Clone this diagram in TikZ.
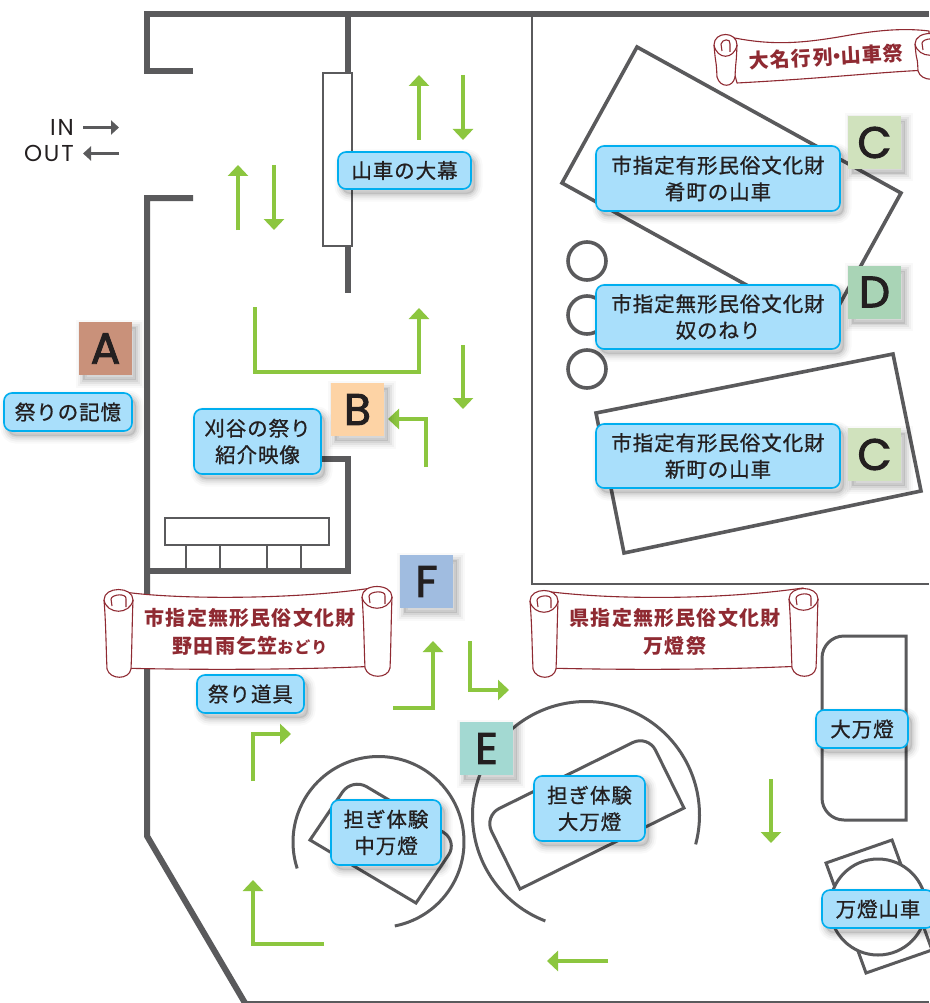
\documentclass[tikz,border=0pt]{standalone}
\usepackage{fontspec}
\usetikzlibrary{arrows.meta,shadows}
\newfontfamily\jp[LetterSpace=4.5,FakeBold=0.8]{Noto Sans CJK JP}
\newfontfamily\jpr[LetterSpace=6.0]{Noto Sans CJK JP}
\newfontfamily\pop[LetterSpace=8.0]{Poppins}
\newfontfamily\popb[FakeBold=2.2]{Poppins}
\setmainfont{Noto Sans}
\definecolor{wall}{HTML}{5A5A5C}
\definecolor{grn}{HTML}{8CC63F}
\definecolor{lblfill}{HTML}{A9DFFB}
\definecolor{lbledge}{HTML}{00AEEF}
\definecolor{scr}{HTML}{8F2A32}
\definecolor{ink}{HTML}{231F20}
\tikzset{
  softshadow/.style={
    general shadow={shadow xshift=4pt,shadow yshift=-5pt,draw=black,draw opacity=.025,line width=15pt},
    general shadow={shadow xshift=4pt,shadow yshift=-5pt,draw=black,draw opacity=.035,line width=11pt},
    general shadow={shadow xshift=4pt,shadow yshift=-5pt,draw=black,draw opacity=.05,line width=7pt},
    general shadow={shadow xshift=4pt,shadow yshift=-5pt,draw=black,draw opacity=.06,line width=3pt,fill=black,fill opacity=.1}},
  lbl/.style={softshadow,draw=lbledge,line width=1.6pt,fill=lblfill,rounded corners=8pt,inner sep=0pt,
    align=center,text=ink,font=\jp\fontsize{20.5}{26.5}\selectfont,anchor=center},
  sq/.style={softshadow,minimum width=53pt,minimum height=53pt,inner sep=0pt,text=ink,
    font=\popb\fontsize{44}{44}\selectfont},
  wallmain/.style={draw=wall,line width=6pt},
  wallthin/.style={draw=wall,line width=2pt},
  wallmid/.style={draw=wall,line width=3pt},
  fixture/.style={draw=wall,line width=3pt,line join=miter},
  route/.style={draw=grn,line width=3.2pt,-{Triangle[length=11pt,width=20pt]}},
  inout/.style={draw=wall,line width=3.5pt,-{Triangle[length=8pt,width=14pt]}},
  scrollline/.style={draw=scr,line width=1.1pt,fill=white,line join=round},
  scrolltext/.style={text=scr,inner sep=0pt,align=center,font=\jpr\bfseries\fontsize{20}{28}\selectfont},
  plain/.style={inner sep=0pt,text=ink,font=\pop\fontsize{23}{23}\selectfont}
}
% roll of a scroll: left, right, top, bottom
\newcommand{\rollpart}[4]{%
  \path[scrollline] (#1,#3+11) .. controls (#1,#3-3) and (#2,#3-3) .. (#2,#3+11)
     .. controls (#2-1,#3+35) and (#2-1,#4-30) .. (#2-2,#4-9)
     .. controls (#2-4,#4+2) and (#1+6,#4+2) .. (#1+3,#4-9)
     .. controls (#1+2,#4-30) and (#1+2,#3+35) .. (#1,#3+11) -- cycle;
  \path[scrollline,fill=none] (#1,#3+11) .. controls (#1+3,#3+26) and (#2-3,#3+26) .. (#2,#3+11);
  \path[scrollline,fill=none] (#1+7,#3+10) .. controls (#1+8,#3+5) and (#2-6,#3+4) .. (#2-7,#3+10) -- (#2-7,#3+18);
  \path[scrollline,fill=none] (#1+7,#3+10) -- (#1+8,#3+17);
}
\begin{document}
\begin{tikzpicture}[x=1pt,y=-1pt]
\useasboundingbox (0,0) rectangle (929,1003);
\fill[white] (0,0) rectangle (929,1003);
% walls
\draw[wallmain] (193,71) -- (147,71) -- (147,14) -- (929,14);
\draw[wallmain] (193,198) -- (147,198) -- (147,836) -- (245,1003);
\draw[wallthin] (245,1001.5) -- (929,1001.5);
\draw[wallmain] (348,14) -- (348,73);
\draw[wallmain] (348,246) -- (348,293);
\draw[wallthin,fill=white] (323,73) rectangle (352,246);
\draw[wallmain] (320,458.5) -- (348,458.5) -- (348,571) -- (147,571);
\draw[wallthin] (532,14) -- (532,584) -- (929,584);
% table
\draw[wallthin] (165,518) rectangle (329,545);
\draw[wallthin] (186,545) -- (186,569);
\draw[wallthin] (220,545) -- (220,569);
\draw[wallthin] (267,545) -- (267,569);
\draw[wallthin] (301,545) -- (301,569);
% floats
\draw[wallmid,line width=3.6pt,miter limit=10] (637,47) -- (901,193) -- (826,329) -- (562,183) -- cycle;
\draw[wallmid,line width=3.6pt] (596,413) -- (893,354) -- (921,491) -- (624,553) -- cycle;
\draw[wallmid,line width=3.6pt] (587,261) circle (19);
\draw[wallmid,line width=3.6pt] (587,315) circle (19);
\draw[wallmid,line width=3.6pt] (587,369) circle (19);
\draw[fixture] (684,808) [rounded corners=17pt] -- (648,735) -- (484,816) [sharp corners] -- (520,889) -- cycle;
\draw[fixture] (310,840) [rounded corners=17pt] -- (352,778) -- (458,841) [sharp corners] -- (416,903) -- cycle;
\draw[wallmid] plot[domain=111:375,samples=90,smooth] ({586+113.5*cos(\x)},{815+113.5*sin(\x)});
\draw[wallmid] plot[domain=162:439,samples=90,smooth] ({378.5+85.5*cos(\x)},{842+85.5*sin(\x)});
\draw[fixture] (906,636) -- (844,636) [rounded corners=0pt] arc[start angle=-90,end angle=-180,radius=22] -- (822,798) arc[start angle=180,end angle=90,radius=22] -- (906,820) -- cycle;
\draw[fixture] (826,863) -- (892,840) -- (932,950) -- (866,973) -- cycle;
\draw[fixture,fill=white] (878,907) circle (48);
% IN OUT
\node[plain,anchor=east] (intext) at (74,127) {IN};
\node[plain,anchor=east] (outtext) at (74,153) {OUT};
\coordinate (ina) at (83,127.5); \coordinate (inb) at (119,127.5);
\coordinate (outa) at (119,153.5); \coordinate (outb) at (83,153.5);
\draw[inout] (ina) -- (inb);
\draw[inout] (outa) -- (outb);
% routes
\coordinate (r1a) at (419,140); \coordinate (r1b) at (419,75);
\coordinate (r2a) at (463,75); \coordinate (r2b) at (463,140);
\coordinate (r3a) at (238,230); \coordinate (r3b) at (238,165);
\coordinate (r4a) at (274,165); \coordinate (r4b) at (274,230);
\coordinate (r5a) at (255,307); \coordinate (r5m) at (255,372); \coordinate (r5n) at (419,372); \coordinate (r5b) at (419,308);
\coordinate (r6a) at (463,345); \coordinate (r6b) at (463,409);
\coordinate (r7a) at (426,467); \coordinate (r7m) at (426,419); \coordinate (r7b) at (388,419);
\coordinate (r8a) at (393,708); \coordinate (r8m) at (433,708); \coordinate (r8b) at (433,641);
\coordinate (r9a) at (470,641); \coordinate (r9m) at (470,690); \coordinate (r9b) at (509,690);
\coordinate (r10a) at (253,781); \coordinate (r10m) at (253,734); \coordinate (r10b) at (291,734);
\coordinate (r11a) at (771,779); \coordinate (r11b) at (771,843);
\coordinate (r12a) at (608,961); \coordinate (r12b) at (547,961);
\coordinate (r13a) at (324,944); \coordinate (r13m) at (253,944); \coordinate (r13b) at (253,880);
\draw[route] (r1a) -- (r1b);
\draw[route] (r2a) -- (r2b);
\draw[route] (r3a) -- (r3b);
\draw[route] (r4a) -- (r4b);
\draw[route] (r5a) -- (r5m) -- (r5n) -- (r5b);
\draw[route] (r6a) -- (r6b);
\draw[route] (r7a) -- (r7m) -- (r7b);
\draw[route] (r8a) -- (r8m) -- (r8b);
\draw[route] (r9a) -- (r9m) -- (r9b);
\draw[route] (r10a) -- (r10m) -- (r10b);
\draw[route] (r11a) -- (r11b);
\draw[route] (r12a) -- (r12b);
\draw[route] (r13a) -- (r13m) -- (r13b);
% scrolls
\path[scrollline] (725,36) .. controls (770,46) and (800,44) .. (850,35) .. controls (880,30) and (905,28) .. (929,31)
  -- (929,70) .. controls (880,72) and (830,78) .. (737,83) -- cycle;
\rollpart{714}{737}{34}{86}
\rollpart{915}{945}{33}{80}
\path[scrollline] (118,591) .. controls (170,600) and (300,600) .. (378,587) -- (378,666) .. controls (300,670) and (190,670) .. (118,668) -- cycle;
\rollpart{104}{133}{589}{678}
\rollpart{362}{392}{586}{677}
\path[scrollline] (544,591) .. controls (610,600) and (720,600) .. (803,588) -- (803,666) .. controls (720,670) and (620,670) .. (544,668) -- cycle;
\rollpart{530}{558}{590}{678}
\rollpart{789}{818}{588}{677}
\node[scrolltext,rotate=3] (s1) at (826,57) {大名行列{\kern-6pt}・{\kern-6pt}山車祭};
\node[scrolltext] (s2) at (250,632) {市指定無形民俗文化財\\野田雨乞笠{\fontsize{16}{28}\selectfont おどり}};
\node[scrolltext] (s3) at (675,632) {県指定無形民俗文化財\\万燈祭};
% labels
\node[lbl,minimum width=133pt,minimum height=37pt] (l1) at (404.5,170.5) {山車の大幕};
\node[lbl,minimum width=244pt,minimum height=65pt] (l2) at (718,178.5) {市指定有形民俗文化財\\肴町の山車};
\node[lbl,minimum width=244pt,minimum height=64pt] (l3) at (718,317) {市指定無形民俗文化財\\奴のねり};
\node[lbl,minimum width=244pt,minimum height=64pt] (l4) at (718,456) {市指定有形民俗文化財\\新町の山車};
\node[lbl,minimum width=128pt,minimum height=38pt] (l5) at (68,412) {祭りの記憶};
\node[lbl,minimum width=127pt,minimum height=65pt] (l6) at (257.5,441.5) {刈谷の祭り\\紹介映像};
\node[lbl,minimum width=107pt,minimum height=38pt] (l7) at (250.5,694) {祭り道具};
\node[lbl,minimum width=110pt,minimum height=65pt] (l8) at (386,832.5) {担ぎ体験\\中万燈};
\node[lbl,minimum width=111pt,minimum height=65pt] (l9) at (589.5,808.5) {担ぎ体験\\大万燈};
\node[lbl,minimum width=92pt,minimum height=38pt] (l10) at (862,729) {大万燈};
\node[lbl,minimum width=112pt,minimum height=38pt] (l11) at (878,909) {万燈山車};
% squares
\node[sq,fill={rgb,255:red,201;green,145;blue,122}] (A) at (105.5,348.5) {A};
\node[sq,fill={rgb,255:red,253;green,211;blue,165}] (B) at (357.5,409.5) {B};
\node[sq,fill={rgb,255:red,208;green,226;blue,189}] (C1) at (874.5,142.5) {C};
\node[sq,fill={rgb,255:red,169;green,212;blue,182}] (D) at (874.5,292) {D};
\node[sq,fill={rgb,255:red,208;green,226;blue,189}] (C2) at (874.5,454.5) {C};
\node[sq,fill={rgb,255:red,163;green,217;blue,210}] (E) at (486.5,748.5) {E};
\node[sq,fill={rgb,255:red,160;green,188;blue,224}] (F) at (426.5,581.5) {F};
\end{tikzpicture}
\end{document}
